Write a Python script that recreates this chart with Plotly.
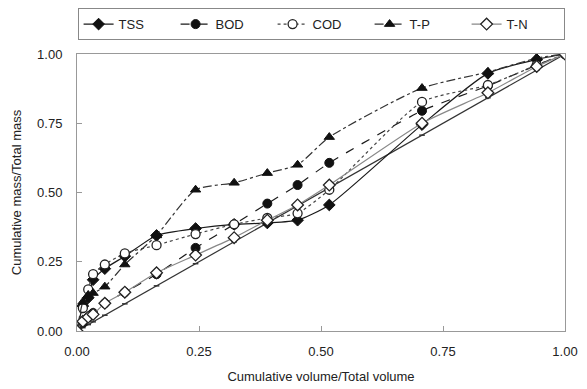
import plotly.graph_objects as go

# Cumulative volume fraction at each sampling point
vol = [0.0, 0.012, 0.023, 0.033, 0.057, 0.098, 0.163, 0.243, 0.322, 0.39, 0.452, 0.517, 0.707, 0.842, 0.942, 1.0]

# Cumulative mass fractions per pollutant
tss = [0.0, 0.09, 0.12, 0.185, 0.225, 0.27, 0.345, 0.37, 0.385, 0.39, 0.40, 0.455, 0.745, 0.93, 0.98, 1.0]
bod = [0.0, 0.03, 0.05, 0.065, 0.10, 0.14, 0.205, 0.30, 0.385, 0.46, 0.527, 0.607, 0.795, 0.885, 0.96, 1.0]
cod = [0.0, 0.083, 0.15, 0.205, 0.24, 0.28, 0.31, 0.35, 0.385, 0.408, 0.425, 0.51, 0.827, 0.888, 0.96, 1.0]
tp = [0.0, 0.105, 0.13, 0.137, 0.16, 0.24, 0.345, 0.51, 0.535, 0.57, 0.60, 0.70, 0.877, 0.935, 0.985, 1.0]
tn = [0.0, 0.035, 0.05, 0.06, 0.10, 0.14, 0.21, 0.274, 0.337, 0.40, 0.455, 0.527, 0.75, 0.86, 0.955, 1.0]

series = [
    ("TSS", tss, dict(color="#1a1a1a", width=1.2, dash="solid"),
     dict(symbol="diamond", size=9, color="#111111", line=dict(color="#111111", width=1))),
    ("BOD", bod, dict(color="#1a1a1a", width=1.2, dash="dash"),
     dict(symbol="circle", size=9, color="#111111", line=dict(color="#111111", width=1))),
    ("COD", cod, dict(color="#444444", width=1.2, dash="dot"),
     dict(symbol="circle", size=9, color="white", line=dict(color="#222222", width=1.3))),
    ("T-P", tp, dict(color="#333333", width=1.2, dash="dashdot"),
     dict(symbol="triangle-up", size=9, color="#111111", line=dict(color="#111111", width=1))),
    ("T-N", tn, dict(color="#888888", width=1.2, dash="solid"),
     dict(symbol="diamond", size=9, color="white", line=dict(color="#222222", width=1.3))),
]

fig = go.Figure()

# 1:1 reference line
fig.add_trace(go.Scatter(
    x=vol, y=vol, mode="lines+markers", showlegend=False,
    line=dict(color="#333333", width=1.2),
    marker=dict(symbol="line-ew", size=4, line=dict(color="#333333", width=1.5)),
    hoverinfo="skip",
))

for name, vals, ln, mk in series:
    fig.add_trace(go.Scatter(
        x=vol, y=vals, name=name, mode="lines+markers",
        line=dict(shape="spline", smoothing=0.6, **ln),
        marker=mk,
    ))

axis_common = dict(
    showgrid=False, zeroline=False,
    showline=True, linecolor="#999999", linewidth=1, mirror=True,
    ticks="inside", ticklen=5, tickcolor="#999999",
    tickformat=".2f", dtick=0.25, range=[0, 1],
    tickfont=dict(family="Liberation Sans, Arial, sans-serif", size=13, color="#222222"),
)

fig.update_layout(
    width=587, height=389,
    margin=dict(l=77, r=22, t=54, b=58, autoexpand=False),
    paper_bgcolor="white", plot_bgcolor="white",
    font=dict(family="Liberation Sans, Arial, sans-serif", size=13, color="#222222"),
    xaxis=dict(title=dict(text="Cumulative volume/Total volume", standoff=14,
                          font=dict(size=13)), ticklabelstandoff=8, **axis_common),
    yaxis=dict(title=dict(text="Cumulative mass/Total mass", standoff=12,
                          font=dict(size=13)), ticklabelstandoff=11, **axis_common),
    legend=dict(
        orientation="h", xref="container", x=0.547, xanchor="center",
        y=1.05, yanchor="bottom",
        bordercolor="#888888", borderwidth=1, bgcolor="white",
        entrywidth=52, entrywidthmode="pixels",
        font=dict(size=13), itemwidth=30,
    ),
)

fig.write_html("out.html")
